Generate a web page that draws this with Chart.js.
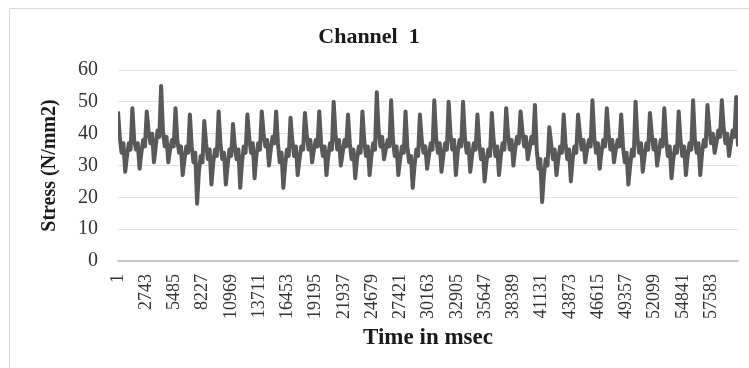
<!DOCTYPE html>
<html>
<head>
<meta charset="utf-8">
<script src="https://cdn.jsdelivr.net/npm/chart.js@4"></script>
<style>
  html, body { margin: 0; padding: 0; background: #fff; }
  #wrap { width: 749px; height: 368px; position: relative; }
</style>
</head>
<body>
<div id="wrap"><canvas id="stressChart"></canvas></div>
<script>
// sample spacing of the readings below, in msec
const SAMPLE_MS = 174.5;

const xTickLabels = [
    1, 2743, 5485, 8227, 10969, 13711, 16453, 19195, 21937, 24679, 27421,
    30163, 32905, 35647, 38389, 41131, 43873, 46615, 49357, 52099, 54841, 57583
];

// stress (N/mm2), one row per load cycle:
// peak, fall-off wiggle, trough, rise wiggle
const stress = [
    47, 39, 34, 37, 28, 33, 37, 35,
    48, 38, 35, 37, 29, 34, 38, 36,
    47, 41, 37, 40, 31, 36, 41, 39,
    55, 41, 36, 39, 31, 35, 38, 36,
    48, 38, 34, 36, 27, 32, 36, 34,
    46, 36, 31, 34, 18, 28, 33, 31,
    44, 37, 32, 35, 24, 31, 35, 33,
    47, 37, 32, 34, 24, 30, 35, 33,
    43, 36, 32, 35, 23, 31, 36, 34,
    46, 39, 34, 37, 26, 33, 37, 35,
    47, 40, 36, 38, 30, 35, 39, 37,
    47, 37, 31, 34, 23, 30, 35, 33,
    45, 38, 33, 36, 27, 32, 36, 35,
    46.5, 40, 35, 38, 31, 35, 38, 36,
    47, 37, 33, 36, 27, 33, 37, 35,
    50, 40, 35, 38, 30, 34, 38, 36,
    46, 37, 32, 35, 26, 32, 36, 34,
    47, 38, 33, 36, 27, 33, 37, 35,
    53, 41, 36, 39, 32, 35, 38, 36,
    50.5, 38, 33, 36, 27, 32, 36, 34,
    47, 36, 31, 33, 23, 30, 35, 33,
    46, 38, 34, 36, 29, 33, 37, 35,
    50.5, 39, 34, 37, 28, 33, 37, 35,
    50, 40, 35, 38, 27, 34, 38, 36,
    50, 39, 34, 37, 28, 33, 37, 35,
    46, 37, 32, 35, 25, 31, 35, 33,
    46.5, 38, 33, 36, 27, 33, 37, 35,
    48, 40, 35, 38, 30, 35, 39, 37,
    47, 41, 36, 39, 32, 35, 39, 37,
    49, 35, 29, 32, 18.5, 27, 32, 30,
    42, 37, 32, 35, 27, 32, 36, 34,
    46, 37, 32, 35, 25, 32, 36, 34,
    46, 40, 35, 38, 31, 35, 38, 36,
    50.5, 39, 34, 37, 29, 34, 38, 36,
    48, 40, 35, 38, 31, 35, 38, 36,
    46, 36, 31, 34, 24, 30, 35, 33,
    50, 39, 34, 37, 28, 33, 37, 35,
    46.5, 40, 35, 38, 30, 34, 38, 36,
    48, 38, 33, 36, 26, 32, 36, 34,
    47, 38, 33, 36, 27, 33, 37, 35,
    50.5, 38, 34, 37, 27, 34, 38, 36,
    49, 42, 37, 40, 34, 37, 41, 39,
    50.5, 42, 37, 40, 33, 37, 41, 39,
    51.5, 36
];

const yMin = 0;
const yMax = 60;
const yStep = 10;

const serif = 'Liberation Serif';

// white background and the light frame around the chart
const chartFrame = {
    id: 'chartFrame',
    beforeDraw(chart) {
        const ctx = chart.ctx;
        ctx.save();
        ctx.fillStyle = '#ffffff';
        ctx.fillRect(0, 0, chart.width, chart.height);
        ctx.strokeStyle = '#d9d9d9';
        ctx.lineWidth = 1;
        ctx.beginPath();
        ctx.moveTo(9.5, chart.height);
        ctx.lineTo(9.5, 8.5);
        ctx.lineTo(chart.width, 8.5);
        ctx.stroke();
        ctx.restore();
    }
};

const points = stress.map((s, i) => ({ x: 1 + i * SAMPLE_MS, y: s }));

const config = {
    type: 'line',
    data: {
        datasets: [{
            label: 'Channel 1',
            data: points,
            borderColor: '#595959',
            borderWidth: 4,
            borderJoinStyle: 'round',
            pointRadius: 0,
            fill: false,
            tension: 0
        }]
    },
    options: {
        responsive: true,
        maintainAspectRatio: false,
        animation: false,
        layout: {
            padding: { top: 0, right: 11, bottom: 0, left: 0 }
        },
        plugins: {
            legend: { display: false },
            tooltip: { enabled: false },
            title: {
                display: true,
                text: 'Channel  1',
                color: '#1a1a1a',
                font: { family: serif, size: 22, weight: 'bold' },
                padding: { top: 24, bottom: 19.6 }
            }
        },
        scales: {
            x: {
                type: 'linear',
                min: 1,
                max: 1 + (stress.length - 1) * SAMPLE_MS,
                afterBuildTicks: function(scale) {
                    scale.ticks = xTickLabels.map(v => ({ value: v }));
                },
                afterFit: function(scale) {
                    scale.height = 107;
                },
                grid: { display: false },
                border: { color: '#c8c8c8', width: 2 },
                ticks: {
                    autoSkip: false,
                    minRotation: 90,
                    maxRotation: 90,
                    padding: 5,
                    color: '#333333',
                    font: { family: serif, size: 18 },
                    callback: function(value) {
                        return String(value);
                    }
                },
                title: {
                    display: true,
                    text: 'Time in msec',
                    color: '#1a1a1a',
                    font: { family: serif, size: 23, weight: 'bold' },
                    padding: { top: 0, bottom: 16 }
                }
            },
            y: {
                min: yMin,
                max: yMax,
                afterFit: function(scale) {
                    scale.width = 118;
                },
                grid: {
                    drawTicks: false,
                    color: function(ctx) {
                        return ctx.tick.value === 0 ? 'rgba(0,0,0,0)' : '#e3e3e3';
                    }
                },
                border: { display: false },
                ticks: {
                    stepSize: yStep,
                    padding: 20,
                    color: '#333333',
                    font: { family: serif, size: 20 }
                },
                title: {
                    display: true,
                    text: 'Stress (N/mm2)',
                    color: '#1a1a1a',
                    font: { family: serif, size: 20, weight: 'bold' },
                    padding: { top: 38, bottom: 0 }
                }
            }
        }
    },
    plugins: [chartFrame]
};

const ctx = document.getElementById('stressChart').getContext('2d');
const stressChart = new Chart(ctx, config);
</script>
</body>
</html>
